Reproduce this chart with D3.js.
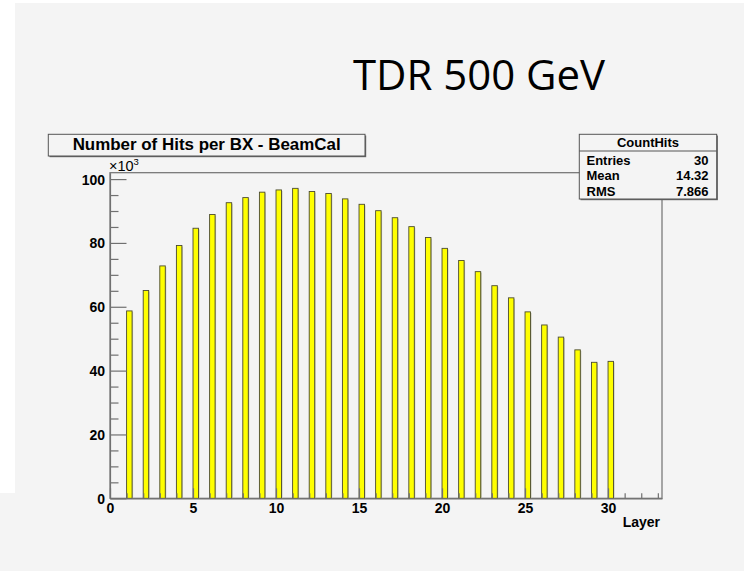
<!DOCTYPE html>
<html>
<head>
<meta charset="utf-8">
<script src="https://cdn.jsdelivr.net/npm/d3@7"></script>
<style>
  html, body { margin: 0; padding: 0; background: #ffffff; }
  svg { display: block; }
  .root-font { font-family: "Liberation Sans", Arial, Helvetica, sans-serif; font-weight: bold; }
</style>
</head>
<body>
<svg id="chart" width="744" height="571"></svg>
<script>
// Hits per bunch crossing in each BeamCal layer
const layers = d3.range(1, 31);
const hits = [
  58700, 65100, 72800, 79200, 84600, 88900, 92600, 94200, 95900, 96600,
  97100, 96100, 95500, 93800, 92100, 90100, 87900, 85100, 81700, 78300,
  74500, 71000, 66600, 62800, 58400, 54300, 50500, 46500, 42600, 42900
];
const yMajorTicks = [0, 20000, 40000, 60000, 80000, 100000];
const xMajorTicks = [0, 5, 10, 15, 20, 25, 30];
const statsRows = [
  ["Entries", "30"],
  ["Mean", "14.32"],
  ["RMS", "7.866"]
];
const histTitle = "Number of Hits per BX - BeamCal";
const statsTitle = "CountHits";
const slideTitle = "TDR 500 GeV";
const xTitle = "Layer";

const svg = d3.select("#chart");
const bg = "#f4f4f4";

// slide background
svg.append("rect").attr("x", 15).attr("y", 3).attr("width", 729).attr("height", 568).attr("fill", bg);
svg.append("rect").attr("x", 0).attr("y", 493).attr("width", 15).attr("height", 78).attr("fill", bg);

// slide heading
svg.append("text")
  .attr("x", 353).attr("y", 90)
  .attr("font-family", "'Open Sans', 'Noto Sans', sans-serif")
  .attr("font-size", 42)
  .attr("textLength", 252)
  .attr("lengthAdjust", "spacingAndGlyphs")
  .attr("fill", "#000")
  .text(slideTitle);

// frame geometry
const frame = { left: 110, right: 662, top: 172.7, bottom: 498.3 };

const x = d3.scaleLinear().domain([0, 33.25]).range([frame.left, frame.right]);
const y = d3.scaleLinear().domain([0, 102000]).range([frame.bottom, frame.top]);

const axisColor = "#707070";

// frame box
svg.append("rect")
  .attr("x", frame.left).attr("y", frame.top)
  .attr("width", frame.right - frame.left).attr("height", frame.bottom - frame.top)
  .attr("fill", "none").attr("stroke", axisColor).attr("stroke-width", 1.2);

// bars: start at the bin centre, width 0.33 of a bin
const barW = 0.33;
const bars = svg.append("g");
bars.selectAll("rect.shade")
  .data(layers)
  .join("rect")
  .attr("class", "shade")
  .attr("x", d => x(d) + 1)
  .attr("y", (d, i) => y(hits[i]) + 1)
  .attr("width", d => x(d + barW) - x(d))
  .attr("height", (d, i) => y(0) - y(hits[i]) - 1)
  .attr("fill", "#c4c4b0");
bars.selectAll("rect.bar")
  .data(layers)
  .join("rect")
  .attr("class", "bar")
  .attr("x", d => x(d))
  .attr("y", (d, i) => y(hits[i]))
  .attr("width", d => x(d + barW) - x(d))
  .attr("height", (d, i) => y(0) - y(hits[i]))
  .attr("fill", "#ffff00")
  .attr("stroke", "#4a4a30")
  .attr("stroke-width", 0.9);

// y axis: major + minor ticks drawn inward
const yAxis = d3.axisLeft(y)
  .tickValues(yMajorTicks)
  .tickSizeInner(-16.5)
  .tickSizeOuter(0)
  .tickPadding(5)
  .tickFormat(d => d / 1000);
const gy = svg.append("g").attr("class", "root-font")
  .attr("transform", `translate(${frame.left},0)`)
  .call(yAxis);
const yMinor = d3.range(5000, 101000, 5000).filter(v => v % 20000 !== 0);
svg.append("g")
  .attr("transform", `translate(${frame.left},0)`)
  .call(d3.axisLeft(y).tickValues(yMinor).tickSizeInner(-8.5).tickSizeOuter(0).tickFormat(""))
  .call(g => g.select(".domain").remove());

// x axis
const xAxis = d3.axisBottom(x)
  .tickValues(xMajorTicks)
  .tickSizeInner(-10)
  .tickSizeOuter(0)
  .tickPadding(5);
const gx = svg.append("g").attr("class", "root-font")
  .attr("transform", `translate(0,${frame.bottom})`)
  .call(xAxis);
const xMinor = d3.range(1, 34).filter(v => v % 5 !== 0);
svg.append("g")
  .attr("transform", `translate(0,${frame.bottom})`)
  .call(d3.axisBottom(x).tickValues(xMinor).tickSizeInner(-5).tickSizeOuter(0).tickFormat(""))
  .call(g => g.select(".domain").remove());

svg.selectAll(".tick line, .domain").attr("stroke", axisColor).attr("stroke-width", 1.2);
svg.selectAll(".tick text").attr("font-size", 14).attr("fill", "#000")
  .attr("font-family", "'Liberation Sans', Arial, sans-serif").attr("font-weight", "bold");
gy.selectAll(".tick text").attr("dy", "0.36em");

// exponent marker
const expo = svg.append("text")
  .attr("x", 109).attr("y", 170.5)
  .attr("font-family", "'Liberation Sans', Arial, sans-serif")
  .attr("font-size", 14.5)
  .attr("fill", "#000");
expo.append("tspan").text("\u00d710");
expo.append("tspan").attr("font-size", 9.5).attr("dy", -6).text("3");

// x axis title
svg.append("text").attr("class", "root-font")
  .attr("x", 660).attr("y", 527)
  .attr("text-anchor", "end")
  .attr("font-size", 14)
  .attr("fill", "#000")
  .text(xTitle);

// histogram title box
const tb = { x: 48.3, y: 134.3, w: 316.7, h: 21.7 };
svg.append("rect").attr("x", tb.x + 1.2).attr("y", tb.y + 1.2).attr("width", tb.w).attr("height", tb.h).attr("fill", "#666");
svg.append("rect").attr("x", tb.x).attr("y", tb.y).attr("width", tb.w).attr("height", tb.h)
  .attr("fill", bg).attr("stroke", "#555").attr("stroke-width", 1);
svg.append("text").attr("class", "root-font")
  .attr("x", tb.x + tb.w / 2).attr("y", tb.y + 16)
  .attr("text-anchor", "middle")
  .attr("font-size", 16)
  .attr("textLength", 268)
  .attr("lengthAdjust", "spacingAndGlyphs")
  .attr("fill", "#000")
  .text(histTitle);

// statistics box
const sb = { x: 579.3, y: 134.3, w: 137.4, h: 64.7 };
svg.append("rect").attr("x", sb.x + 1.2).attr("y", sb.y + 1.2).attr("width", sb.w).attr("height", sb.h).attr("fill", "#666");
svg.append("rect").attr("x", sb.x).attr("y", sb.y).attr("width", sb.w).attr("height", sb.h)
  .attr("fill", bg).attr("stroke", "#555").attr("stroke-width", 1);
svg.append("line")
  .attr("x1", sb.x).attr("x2", sb.x + sb.w)
  .attr("y1", 151).attr("y2", 151)
  .attr("stroke", "#555").attr("stroke-width", 1);
svg.append("text").attr("class", "root-font")
  .attr("x", 648).attr("y", 147)
  .attr("text-anchor", "middle")
  .attr("font-size", 13)
  .attr("fill", "#000")
  .text(statsTitle);
const rows = svg.append("g").attr("class", "root-font").attr("font-size", 13).attr("fill", "#000");
statsRows.forEach((r, i) => {
  const by = 164.5 + i * 15.7;
  rows.append("text").attr("x", 586.5).attr("y", by).text(r[0]);
  rows.append("text").attr("x", 708.5).attr("y", by).attr("text-anchor", "end").text(r[1]);
});
</script>
</body>
</html>
